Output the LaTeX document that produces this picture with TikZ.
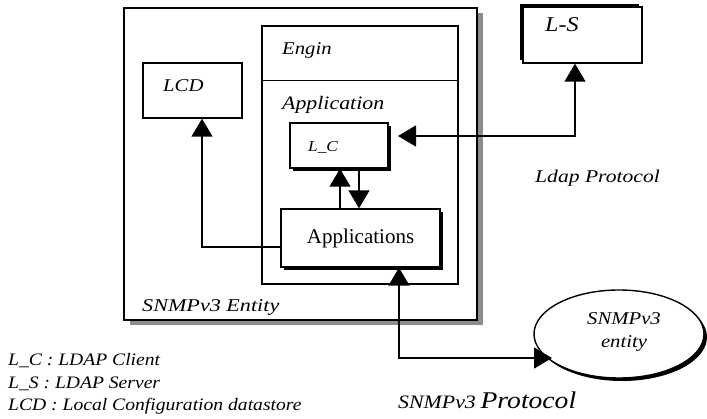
\documentclass[tikz,border=0pt]{standalone}
\usepackage{fontspec}
\setmainfont{Liberation Serif}
\usetikzlibrary{arrows.meta,calc,shadows,shapes.geometric}
\newcommand{\wx}[2][1.15]{\scalebox{#1}[1]{#2}}
\tikzset{tri/.tip={Triangle[width=21pt,length=18pt]}}
\begin{document}
\begin{tikzpicture}[x=1pt,y=-1pt,
  box/.style={draw,line width=1.4pt,fill=white,rectangle,inner sep=0pt},
  bshadow/.style={drop shadow={shadow xshift=3pt,shadow yshift=-3pt,fill=black,opacity=1}},
  con/.style={line width=1.5pt},
  lbl/.style={inner sep=0pt,anchor=base west,font=\itshape}]
\useasboundingbox (0,0) rectangle (707,419);
% outer entity box with gray shadow
\node[box,minimum width=353pt,minimum height=312pt,
  drop shadow={shadow xshift=6pt,shadow yshift=-5pt,fill=black!45,opacity=1}]
  (ent) at (300.5,164) {};
% engine box
\node[box,line width=1.2pt,minimum width=196pt,minimum height=258pt] (eng) at (360,155) {};
\draw[line width=1.2pt] ($(eng.north west)+(0,55)$) -- ($(eng.north east)+(0,55)$);
% boxes
\node[box,minimum width=99pt,minimum height=55pt] (lcd) at (192.5,90.5) {};
\node[box,bshadow,minimum width=98pt,minimum height=45pt] (lc) at (339,145.5) {};
\node[box,bshadow,minimum width=159pt,minimum height=58pt,
  font=\fontsize{21}{24}\selectfont] (apps) at (360.5,238) {Applications};
\node[box,minimum width=119pt,minimum height=56pt,
  drop shadow={shadow xshift=-3pt,shadow yshift=3pt,fill=black,opacity=1}] (ls) at (582.5,35) {};
\node[draw,ellipse,line width=1.4pt,fill=white,minimum width=170pt,minimum height=88pt,
  drop shadow={shadow xshift=3pt,shadow yshift=-3pt,fill=black,opacity=1}] (snmp) at (619,334) {};
% labels
\node[lbl,font=\itshape\fontsize{18}{20}\selectfont] (tlcd) at (163,92) {\wx{LCD}};
\node[lbl,font=\itshape\fontsize{18}{20}\selectfont] (teng) at (282,55) {\wx{Engin}};
\node[lbl,font=\itshape\fontsize{19}{20}\selectfont] (tapp) at (282,110) {\wx{Application}};
\node[lbl,font=\itshape\fontsize{15}{20}\selectfont] (tlc) at (308,152) {\wx{L\_C}};
\node[lbl,font=\itshape\fontsize{21}{20}\selectfont] (tls) at (545,32) {\wx{L-S}};
\node[lbl,font=\itshape\fontsize{18}{20}\selectfont] (tent) at (142,312) {\wx[1.23]{SNMPv3 Entity}};
\node[lbl,font=\itshape\fontsize{18}{20}\selectfont] (tldap) at (535,183) {\wx[1.2]{Ldap Protocol}};
\node[inner sep=0pt,anchor=base,font=\itshape\fontsize{18}{20}\selectfont] (ts1) at (624,325) {\wx{SNMPv3}};
\node[inner sep=0pt,anchor=base,font=\itshape\fontsize{18}{20}\selectfont] (ts2) at (624,348) {\wx{entity}};
\node[lbl,font=\itshape\fontsize{17.5}{20}\selectfont] (leg1) at (8,366) {\wx[1.12]{L\_C : LDAP Client}};
\node[lbl,font=\itshape\fontsize{17.5}{20}\selectfont] (leg2) at (8,389) {\wx[1.12]{L\_S : LDAP Server}};
\node[lbl,font=\itshape\fontsize{17.5}{20}\selectfont] (leg3) at (8,411) {\wx[1.12]{LCD : Local Configuration datastore}};
\node[lbl] (tproto) at (398,409) {\fontsize{19}{20}\selectfont\wx{SNMPv3} \fontsize{24}{20}\selectfont\wx{Protocol}};
% connector helper coordinates
\coordinate (xl) at (202,0);
\coordinate (yl) at (0,247);
\coordinate (xu) at (340,0);
\coordinate (xd) at (359,0);
\coordinate (xs) at (575,0);
\coordinate (lcin) at (398,136);
\coordinate (xa) at (399,0);
\coordinate (snin) at (552,358);
% connectors
\draw[con,-{tri}] (apps.west |- yl) -| (lcd.south -| xl);
\draw[con,-{tri}] (apps.north -| xu) -- (lc.south -| xu);
\draw[con,-{tri}] (lc.south -| xd) -- (apps.north -| xd);
\draw[con,{tri}-{tri}] (lcin) -| (ls.south -| xs);
\draw[con,{tri}-{tri}] (apps.south -| xa) |- (snin);
\end{tikzpicture}
\end{document}
